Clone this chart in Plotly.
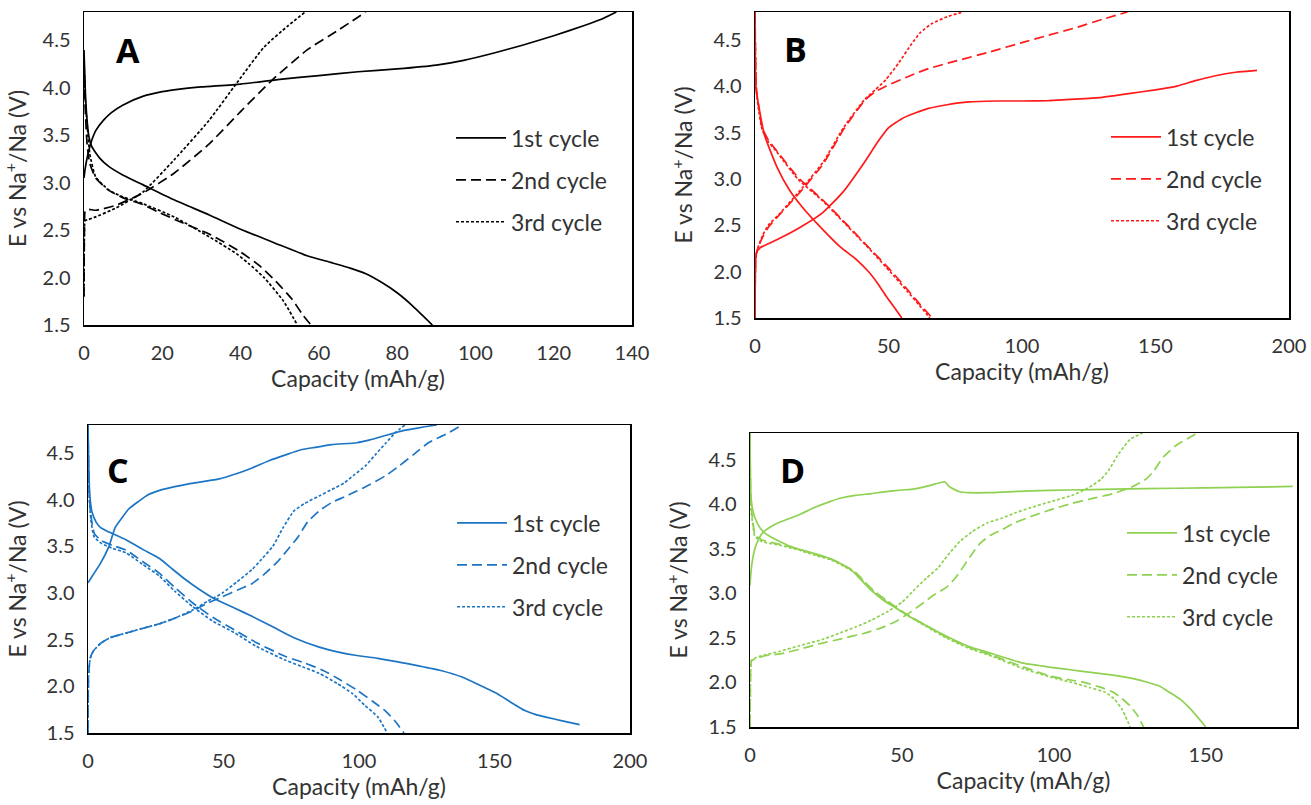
import plotly.graph_objects as go

# ---------------- Panel A (black) ----------------
A1_chg_q = [0, 0.3, 1, 2, 3, 5, 7, 10, 15, 20, 25, 30, 40, 50, 60, 70, 80, 90, 97, 105, 112, 120, 128, 132, 136]
A1_chg_v = [3.05, 3.15, 3.3, 3.45, 3.55, 3.66, 3.74, 3.82, 3.91, 3.96, 3.99, 4.01, 4.04, 4.09, 4.13, 4.17, 4.2, 4.24, 4.29, 4.37, 4.45, 4.55, 4.66, 4.72, 4.8]
A1_dis_q = [0, 0.3, 0.7, 1.2, 2, 4, 6.4, 10, 15, 23, 32, 40, 49, 57, 63, 68, 72, 76, 80, 84, 87, 89]
A1_dis_v = [4.4, 4.0, 3.7, 3.5, 3.38, 3.26, 3.17, 3.08, 2.98, 2.82, 2.66, 2.51, 2.36, 2.23, 2.16, 2.1, 2.04, 1.95, 1.84, 1.7, 1.58, 1.5]
A2_chg_q = [0, 0.1, 0.3, 1, 3, 8, 15, 23, 32, 40, 48, 57, 65, 72]
A2_chg_v = [1.8, 2.5, 2.7, 2.72, 2.71, 2.76, 2.89, 3.1, 3.41, 3.75, 4.08, 4.4, 4.61, 4.8]
A2_dis_q = [0, 0.3, 0.8, 1.5, 3, 6, 10, 15, 19, 25, 32, 40, 45, 49, 53, 56, 58]
A2_dis_v = [4.3, 3.8, 3.4, 3.2, 3.05, 2.93, 2.84, 2.77, 2.69, 2.58, 2.46, 2.27, 2.12, 1.96, 1.78, 1.6, 1.5]
A3_chg_q = [0, 0.1, 0.3, 1, 3, 8, 15, 23, 32, 39, 46, 52, 56.5]
A3_chg_v = [1.8, 2.45, 2.6, 2.61, 2.64, 2.73, 2.9, 3.24, 3.66, 4.05, 4.43, 4.65, 4.8]
A3_dis_q = [0, 0.3, 0.85, 1.5, 3, 6.4, 10, 15, 23, 32, 39, 42, 46, 51, 54.5]
A3_dis_v = [4.3, 3.9, 3.59, 3.3, 3.06, 2.92, 2.85, 2.78, 2.64, 2.43, 2.25, 2.15, 2.0, 1.75, 1.5]

# ---------------- Panel B (red) ----------------
B1_chg_q = [0, 0.2, 0.5, 2, 5, 10, 17.6, 25.5, 33, 41, 46, 50, 55, 60, 65, 72, 80, 90, 100, 110, 120, 130, 140, 150, 158, 165, 172, 180, 188]
B1_chg_v = [1.5, 2.1, 2.2, 2.26, 2.3, 2.37, 2.49, 2.64, 2.86, 3.18, 3.4, 3.55, 3.65, 3.71, 3.76, 3.8, 3.83, 3.84, 3.84, 3.845, 3.86, 3.88, 3.92, 3.96, 4.0, 4.06, 4.11, 4.15, 4.17]
B1_dis_q = [0, 0.3, 1.1, 3.5, 8.2, 12.9, 17.6, 25.5, 31.8, 38, 42.8, 46, 49, 52, 55]
B1_dis_v = [4.8, 4.0, 3.84, 3.48, 3.13, 2.88, 2.7, 2.45, 2.27, 2.13, 1.99, 1.87, 1.74, 1.62, 1.5]
B2_chg_q = [0, 0.3, 1, 3, 5, 9.7, 17.6, 25.5, 33.3, 41.2, 45, 49, 57, 65, 75, 88, 100, 110, 120, 130, 139.5]
B2_chg_v = [1.5, 2.15, 2.25, 2.38, 2.48, 2.63, 2.88, 3.16, 3.54, 3.85, 3.94, 4.0, 4.1, 4.19, 4.27, 4.37, 4.47, 4.55, 4.63, 4.72, 4.8]
B2_dis_q = [0, 0.5, 1.5, 2.7, 5, 8.2, 16, 25.5, 35, 44.3, 50.6, 57, 62, 66.4]
B2_dis_v = [4.8, 3.98, 3.75, 3.55, 3.42, 3.3, 3.02, 2.77, 2.49, 2.21, 2.02, 1.81, 1.64, 1.5]
B3_chg_q = [0, 0.3, 1, 3, 5, 9.7, 17.6, 25.5, 33.3, 41.2, 45, 49, 53.8, 58.5, 62, 66, 72, 78]
B3_chg_v = [1.5, 2.15, 2.25, 2.4, 2.5, 2.64, 2.9, 3.18, 3.56, 3.86, 3.96, 4.07, 4.25, 4.45, 4.58, 4.67, 4.75, 4.8]
B3_dis_q = [0, 0.5, 1.5, 2.7, 5, 8.2, 16, 25.5, 35, 44.3, 50.6, 57, 61.5, 65.5]
B3_dis_v = [4.8, 3.95, 3.72, 3.53, 3.4, 3.29, 3.0, 2.76, 2.48, 2.2, 2.0, 1.79, 1.64, 1.5]

# ---------------- Panel C (blue) ----------------
C1_chg_q = [0, 2, 4.65, 7.75, 10, 12.4, 15, 18.6, 22, 26.4, 32, 37.2, 48, 55, 60.5, 67, 72.9, 78, 83.7, 90, 99.2, 104, 110, 116.3, 122, 128.7]
C1_chg_v = [3.11, 3.2, 3.32, 3.5, 3.7, 3.8, 3.9, 3.98, 4.05, 4.1, 4.14, 4.17, 4.22, 4.28, 4.34, 4.42, 4.48, 4.53, 4.56, 4.59, 4.61, 4.64, 4.69, 4.74, 4.77, 4.8]
C1_dis_q = [0, 0.3, 0.8, 1.55, 3, 4.65, 8, 14, 20, 26.4, 31, 35.7, 41, 46.5, 54, 60.5, 68, 76, 85.3, 92, 99.2, 107, 114.7, 122, 130.2, 138, 144, 150.4, 156, 161.2, 165, 169, 175, 181.4]
C1_dis_v = [4.8, 4.3, 4.0, 3.86, 3.76, 3.7, 3.65, 3.57, 3.47, 3.37, 3.26, 3.15, 3.04, 2.94, 2.84, 2.75, 2.64, 2.52, 2.42, 2.37, 2.33, 2.3, 2.26, 2.22, 2.17, 2.1, 2.02, 1.93, 1.83, 1.74, 1.7, 1.67, 1.63, 1.59]
C2_chg_q = [0, 0.2, 0.8, 2, 4.65, 8, 14, 20, 26.4, 32, 38.8, 44, 49.6, 55, 60.5, 65, 69.8, 73, 77.5, 81, 85.3, 90, 94.6, 99, 103.9, 110, 114.7, 120, 125.6, 132, 138]
C2_chg_v = [1.5, 2.1, 2.3, 2.38, 2.46, 2.52, 2.57, 2.62, 2.67, 2.73, 2.81, 2.89, 2.96, 3.03, 3.1, 3.2, 3.33, 3.44, 3.6, 3.76, 3.88, 3.97, 4.03, 4.09, 4.16, 4.26, 4.36, 4.48, 4.61, 4.7, 4.8]
C2_dis_q = [0, 0.4, 1, 2.3, 5, 9, 14, 20, 26.4, 32, 38.8, 46, 54.3, 62, 72.9, 80, 86.8, 93, 99.2, 105, 110, 113.5, 116.6]
C2_dis_v = [4.8, 4.1, 3.85, 3.64, 3.56, 3.51, 3.46, 3.34, 3.21, 3.06, 2.89, 2.74, 2.6, 2.47, 2.32, 2.25, 2.17, 2.07, 1.96, 1.84, 1.73, 1.62, 1.5]
C3_chg_q = [0, 0.2, 0.8, 2, 4.65, 8, 14, 20, 26.4, 32, 38.8, 44, 49.6, 55, 60.5, 64, 68.2, 72, 76, 80, 85.3, 90, 94.6, 98, 102.3, 106, 110, 113.5, 117]
C3_chg_v = [1.5, 2.1, 2.3, 2.38, 2.46, 2.52, 2.57, 2.62, 2.67, 2.73, 2.82, 2.91, 3.0, 3.12, 3.25, 3.36, 3.5, 3.7, 3.88, 3.96, 4.04, 4.11, 4.18, 4.26, 4.36, 4.48, 4.61, 4.72, 4.8]
C3_dis_q = [0, 0.4, 1, 2.3, 5, 9, 14, 20, 26.4, 32, 38.8, 46, 54.3, 62, 72.9, 80, 85.3, 92, 97.7, 102, 107, 110.4]
C3_dis_v = [4.8, 4.05, 3.8, 3.6, 3.53, 3.48, 3.43, 3.31, 3.18, 3.02, 2.85, 2.7, 2.57, 2.43, 2.28, 2.2, 2.14, 2.03, 1.92, 1.8, 1.67, 1.5]

# ---------------- Panel D (green) ----------------
D1_chg_q = [0, 0.5, 1.6, 3, 4.4, 7, 9.9, 13, 16.7, 21, 26.3, 30, 34.6, 40, 44.2, 50, 53.8, 58, 63.4, 64.2, 65.5, 67, 69, 72, 78.5, 85, 92.2, 105, 120, 140, 160, 178.6]
D1_chg_v = [3.09, 3.3, 3.5, 3.62, 3.69, 3.75, 3.8, 3.84, 3.89, 3.96, 4.03, 4.07, 4.1, 4.12, 4.14, 4.16, 4.17, 4.2, 4.25, 4.25, 4.2, 4.17, 4.14, 4.13, 4.13, 4.14, 4.15, 4.16, 4.17, 4.18, 4.19, 4.2]
D1_dis_q = [0, 0.3, 1, 2.5, 4.4, 7, 9.9, 13, 16.7, 21, 26.3, 30, 33.2, 36, 40, 44, 48.3, 53, 57.9, 64, 71.6, 80, 89.4, 95, 99, 106, 112.8, 120, 126.5, 131, 134.7, 138, 141.6, 145, 150]
D1_dis_v = [4.8, 4.1, 3.92, 3.78, 3.69, 3.63, 3.58, 3.53, 3.49, 3.45, 3.39, 3.33, 3.27, 3.17, 3.03, 2.92, 2.83, 2.73, 2.64, 2.53, 2.41, 2.32, 2.22, 2.19, 2.17, 2.14, 2.11, 2.08, 2.04, 2.0, 1.96, 1.89, 1.81, 1.7, 1.5]
D2_chg_q = [0, 0.2, 0.5, 2, 5, 9.9, 16, 23.6, 30, 37.3, 43, 48.3, 52, 56.5, 60, 64.7, 67.5, 70.2, 73, 75.7, 79, 82.6, 87, 92.2, 99, 105.9, 112, 119.6, 126, 130.6, 133, 136, 140.2, 145.7, 147.5]
D2_chg_v = [1.5, 2.1, 2.24, 2.27, 2.3, 2.32, 2.37, 2.44, 2.49, 2.55, 2.61, 2.69, 2.77, 2.88, 2.97, 3.07, 3.17, 3.3, 3.44, 3.56, 3.65, 3.71, 3.79, 3.86, 3.94, 4.01, 4.06, 4.12, 4.2, 4.29, 4.38, 4.53, 4.66, 4.77, 4.8]
D2_dis_q = [0, 0.3, 1, 1.6, 4, 9.9, 16.7, 21, 26.3, 30, 34.6, 38, 41.4, 45, 50, 57.9, 64, 71.6, 80, 89.4, 99, 105, 110, 115, 119.6, 122, 125, 127.5, 129.5]
D2_dis_v = [4.8, 4.0, 3.8, 3.66, 3.6, 3.55, 3.49, 3.44, 3.39, 3.33, 3.24, 3.12, 3.01, 2.92, 2.8, 2.64, 2.52, 2.4, 2.3, 2.18, 2.07, 2.03, 2.0, 1.95, 1.89, 1.83, 1.74, 1.63, 1.5]
D3_chg_q = [0, 0.2, 0.5, 2, 5, 9.9, 16, 23.6, 30, 34.6, 40, 45.5, 50, 53.8, 58, 62, 64, 66.1, 69, 73, 78, 82.6, 87, 92.2, 99, 105.9, 110, 113, 115.5, 118, 121, 125.1, 129.2]
D3_chg_v = [1.5, 2.1, 2.25, 2.28, 2.31, 2.35, 2.41, 2.48, 2.56, 2.62, 2.7, 2.8, 2.9, 3.03, 3.17, 3.29, 3.38, 3.47, 3.58, 3.69, 3.79, 3.84, 3.9, 3.96, 4.03, 4.1, 4.16, 4.22, 4.28, 4.38, 4.55, 4.73, 4.8]
D3_dis_q = [0, 0.3, 1, 1.6, 4, 9.9, 16.7, 21, 26.3, 30, 34.6, 38, 41.4, 45, 50, 57.9, 64, 71.6, 80, 89.4, 99, 105.9, 112, 116.9, 120, 122.4, 125.1]
D3_dis_v = [4.8, 3.95, 3.75, 3.64, 3.58, 3.54, 3.48, 3.43, 3.38, 3.32, 3.23, 3.11, 3.0, 2.91, 2.79, 2.63, 2.51, 2.39, 2.29, 2.16, 2.06, 2.0, 1.94, 1.89, 1.81, 1.7, 1.5]

cycle_names = ["1st cycle", "2nd cycle", "3rd cycle"]
panel_letters = ["A", "B", "C", "D"]
x_ranges = [[0, 140], [0, 200], [0, 200], [0, 180]]
x_dticks = [20, 50, 50, 50]
y_range = [1.5, 4.8]

panels = {
    "A": [(A1_chg_q, A1_chg_v, A1_dis_q, A1_dis_v), (A2_chg_q, A2_chg_v, A2_dis_q, A2_dis_v), (A3_chg_q, A3_chg_v, A3_dis_q, A3_dis_v)],
    "B": [(B1_chg_q, B1_chg_v, B1_dis_q, B1_dis_v), (B2_chg_q, B2_chg_v, B2_dis_q, B2_dis_v), (B3_chg_q, B3_chg_v, B3_dis_q, B3_dis_v)],
    "C": [(C1_chg_q, C1_chg_v, C1_dis_q, C1_dis_v), (C2_chg_q, C2_chg_v, C2_dis_q, C2_dis_v), (C3_chg_q, C3_chg_v, C3_dis_q, C3_dis_v)],
    "D": [(D1_chg_q, D1_chg_v, D1_dis_q, D1_dis_v), (D2_chg_q, D2_chg_v, D2_dis_q, D2_dis_v), (D3_chg_q, D3_chg_v, D3_dis_q, D3_dis_v)],
}
colors = {"A": "#000000", "B": "#FF1A1A", "C": "#1C75C4", "D": "#8FD150"}
dashes = ["solid", "10px,5px", "3px,2px"]

W, H = 1311, 805
# plot areas in pixels: (left, right, top, bottom)
boxes = {"A": (84, 632, 12, 325), "B": (755, 1289, 12, 318),
         "C": (88, 630, 425, 733), "D": (750, 1297, 433, 727)}
legend_pos = {"A": (451, 180), "B": (1106, 179), "C": (452, 565), "D": (1122, 575)}
letter_pos = {"A": (0.08, 0.88), "B": (0.075, 0.88), "C": (0.055, 0.855), "D": (0.077, 0.875)}

FONT = "Lato, 'Open Sans', sans-serif"
TXT = "#333333"

fig = go.Figure()
for i, p in enumerate(panel_letters):
    ax = "" if i == 0 else str(i + 1)
    leg = "legend" if i == 0 else "legend" + str(i + 1)
    for c, (cq, cv, dq, dv) in enumerate(panels[p]):
        xs = list(cq) + [None] + list(dq)
        ys = list(cv) + [None] + list(dv)
        fig.add_trace(go.Scatter(
            x=xs, y=ys, mode="lines", name=cycle_names[c],
            line=dict(color=colors[p], width=1.7, dash=dashes[c], shape="spline", smoothing=0.5),
            xaxis="x" + ax, yaxis="y" + ax, legend=leg, legendgroup=p + str(c),
            hoverinfo="skip"))
    l, r, t, b = boxes[p]
    xd = [l / W, r / W]
    yd = [1 - b / H, 1 - t / H]
    fig.layout["xaxis" + ax] = dict(
        domain=xd, range=x_ranges[i], dtick=x_dticks[i], tick0=0, anchor="y" + ax, automargin=False,
        showline=True, mirror=True, linecolor="#000000", linewidth=1.5,
        showgrid=False, zeroline=False, ticks="outside", ticklen=9, tickcolor="rgba(0,0,0,0)",
        tickfont=dict(family=FONT, size=20, color=TXT),
        title=dict(text="Capacity (mAh/g)", font=dict(family=FONT, size=23, color=TXT), standoff=8))
    fig.layout["yaxis" + ax] = dict(
        domain=yd, range=y_range, dtick=0.5, tick0=1.5, anchor="x" + ax, tickformat=".1f", automargin=False,
        showline=True, mirror=True, linecolor="#000000", linewidth=1.5,
        showgrid=False, zeroline=False, ticks="outside", ticklen=8, tickcolor="rgba(0,0,0,0)",
        tickfont=dict(family=FONT, size=20, color=TXT),
        title=dict(text="E vs Na<sup>+</sup>/Na (V)", font=dict(family=FONT, size=23, color=TXT), standoff=14))
    lx, ly = legend_pos[p]
    fig.layout[leg] = dict(
        x=lx / W, y=1 - ly / H, xanchor="left", yanchor="middle",
        bgcolor="rgba(0,0,0,0)", traceorder="grouped", tracegroupgap=9,
        itemwidth=50, font=dict(family=FONT, size=23, color=TXT))
    fx, fy = letter_pos[p]
    fig.add_annotation(
        text="<b>" + p + "</b>", x=fx, y=fy, xref=("x" + ax) + " domain", yref=("y" + ax) + " domain",
        showarrow=False, xanchor="center", yanchor="middle",
        font=dict(family="'Open Sans', Arial, sans-serif", size=34, color="#000000"))

fig.update_layout(
    width=W, height=H, margin=dict(l=0, r=0, t=0, b=0, autoexpand=False),
    paper_bgcolor="white", plot_bgcolor="white", showlegend=True)

fig.write_html("out.html", config={"displayModeBar": False, "staticPlot": True},
               post_script="document.body.style.margin='0';document.body.style.overflow='hidden';")
